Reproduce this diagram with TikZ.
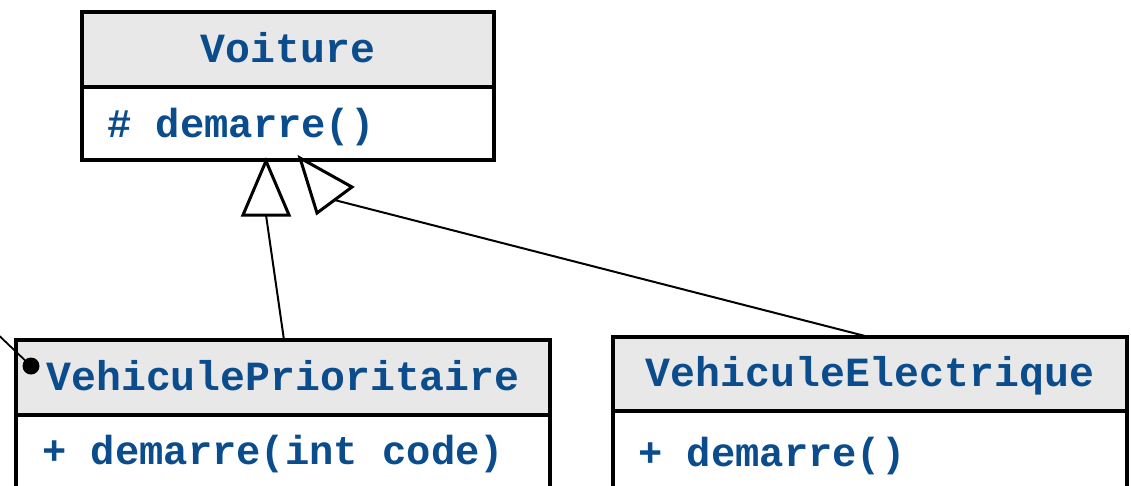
\documentclass[tikz,border=0pt]{standalone}
\usepackage{fontspec}
\setmonofont{Liberation Mono}
\definecolor{umltext}{RGB}{10,76,140}
\definecolor{umlhead}{RGB}{232,232,232}
\begin{document}
\begin{tikzpicture}[x=1pt,y=-1pt,
  classbox/.style={draw=black, line width=4pt, inner sep=0pt, outer sep=0pt, anchor=north west,
    font=\fontsize{41.5}{48}\selectfont\ttfamily\bfseries, text=umltext, text height=25pt, text depth=0pt},
  headbox/.style={classbox, fill=umlhead, align=center},
  bodybox/.style={classbox, fill=white},
  member/.style={anchor=base west, inner sep=0pt, font=\fontsize{40.5}{48}\selectfont\ttfamily\bfseries, text=umltext},
  gen/.style={draw=black, line width=2pt},
  gentip/.style={draw=black, fill=white, line width=3pt, line join=miter}
]
\useasboundingbox (0,0) rectangle (1131,485);
\clip (0,0) rectangle (1131,485);
\fill[white] (0,0) rectangle (1131,485);

% Voiture
\node[headbox, minimum width=412pt, minimum height=75pt] (vh) at (82,12) {Voiture};
\node[bodybox, minimum width=412pt, minimum height=73pt] (vb) at (82,87) {};
\node[member] (vm) at (107,137) {\#{} demarre()};

% VehiculePrioritaire
\node[headbox, minimum width=534pt, minimum height=75pt] (ph) at (16,340) {VehiculePrioritaire};
\node[bodybox, minimum width=534pt, minimum height=80pt] (pb) at (16,415) {};
\node[member] (pm) at (42,464) {+ demarre(int code)};

% VehiculeElectrique
\node[headbox, minimum width=514pt, minimum height=74pt] (eh) at (613,337) {VehiculeElectrique};
\node[bodybox, minimum width=514pt, minimum height=90pt] (eb) at (613,411) {};
\node[member] (em) at (638,466) {+ demarre()};

% generalisation VehiculePrioritaire -> Voiture
\coordinate (a1) at (266,161);
\coordinate (b1l) at (243,215);
\coordinate (b1r) at (289,215);
\coordinate (b1m) at (266,215);
\draw[gen] ([xshift=1pt]ph.north) -- (b1m);
\draw[gentip] (a1) -- (b1l) -- (b1r) -- cycle;

% generalisation VehiculeElectrique -> Voiture
\coordinate (a2) at (300,158);
\coordinate (b2l) at (317,213);
\coordinate (b2r) at (352,187);
\coordinate (b2m) at (334.5,200);
\draw[gen] ([xshift=-1pt]eh.north) -- (b2m);
\draw[gentip] (a2) -- (b2l) -- (b2r) -- cycle;

% anchor dot
\coordinate (d0) at (-10,327);
\node[circle, fill=black, inner sep=0pt, minimum size=17pt] (dot) at (31,366) {};
\draw[line width=1.8pt] (d0) -- (dot.center);
\end{tikzpicture}
\end{document}
